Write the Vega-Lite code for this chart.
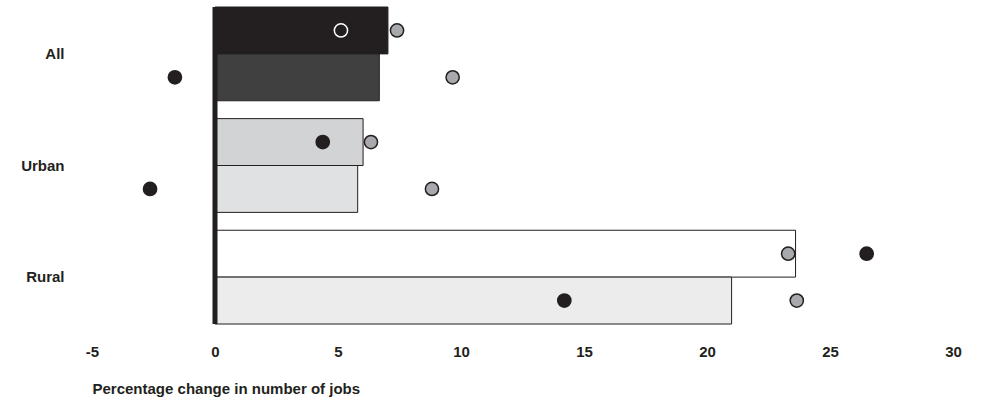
{
  "$schema": "https://vega.github.io/schema/vega-lite/v6.json",
  "autosize": "none",
  "width": 861,
  "height": 317,
  "padding": {"left": 92, "top": 7, "right": 29, "bottom": 80},
  "background": "white",
  "config": {
    "view": {"stroke": null},
    "font": "Liberation Sans",
    "axis": {"labelFont": "Liberation Sans", "titleFont": "Liberation Sans"}
  },
  "datasets": {
    "bars": [
      {"group": "All", "period": "1", "value": 7.03},
      {"group": "All", "period": "2", "value": 6.68},
      {"group": "Urban", "period": "1", "value": 6.02},
      {"group": "Urban", "period": "2", "value": 5.8},
      {"group": "Rural", "period": "1", "value": 23.6},
      {"group": "Rural", "period": "2", "value": 21.0}
    ],
    "points": [
      {"group": "All", "period": "1", "measure": "M2", "value": 5.12},
      {"group": "All", "period": "1", "measure": "M1", "value": 7.4},
      {"group": "All", "period": "2", "measure": "M2", "value": -1.63},
      {"group": "All", "period": "2", "measure": "M1", "value": 9.66},
      {"group": "Urban", "period": "1", "measure": "M2", "value": 4.38},
      {"group": "Urban", "period": "1", "measure": "M1", "value": 6.34},
      {"group": "Urban", "period": "2", "measure": "M2", "value": -2.64},
      {"group": "Urban", "period": "2", "measure": "M1", "value": 8.82},
      {"group": "Rural", "period": "1", "measure": "M1", "value": 23.3},
      {"group": "Rural", "period": "1", "measure": "M2", "value": 26.49},
      {"group": "Rural", "period": "2", "measure": "M2", "value": 14.2},
      {"group": "Rural", "period": "2", "measure": "M1", "value": 23.65}
    ],
    "zero": [{"value": 0}]
  },
  "layer": [
    {
      "data": {"name": "bars"},
      "mark": {"type": "bar", "stroke": "#231f20", "strokeWidth": 1},
      "encoding": {
        "y": {
          "field": "group",
          "type": "nominal",
          "sort": ["All", "Urban", "Rural"],
          "scale": {"paddingInner": 0.16, "paddingOuter": 0},
          "axis": {
            "title": null,
            "domain": false,
            "ticks": false,
            "labelFontWeight": "bold",
            "labelFontSize": 15,
            "labelColor": "#231f20",
            "labelPadding": 28
          }
        },
        "yOffset": {
          "field": "period",
          "type": "nominal",
          "sort": ["1", "2"],
          "scale": {"paddingInner": 0, "paddingOuter": 0}
        },
        "x": {
          "field": "value",
          "type": "quantitative",
          "scale": {"domain": [-5, 30], "nice": false, "zero": false},
          "axis": {
            "values": [-5, 0, 5, 10, 15, 20, 25, 30],
            "labelExpr": "'' + datum.value",
            "grid": false,
            "domain": false,
            "ticks": false,
            "labelFontWeight": "bold",
            "labelFontSize": 15,
            "labelColor": "#231f20",
            "labelPadding": 20,
            "labelFlush": false,
            "title": "Percentage change in number of jobs",
            "titleFontSize": 15,
            "titleFontWeight": "bold",
            "titleColor": "#231f20",
            "titleAnchor": "start",
            "titleAlign": "left",
            "titlePadding": 22
          }
        },
        "x2": {"datum": 0},
        "fill": {
          "condition": [
            {"test": "datum.group === 'All' && datum.period === '1'", "value": "#231f20"},
            {"test": "datum.group === 'All' && datum.period === '2'", "value": "#404040"},
            {"test": "datum.group === 'Urban' && datum.period === '1'", "value": "#d1d3d4"},
            {"test": "datum.group === 'Urban' && datum.period === '2'", "value": "#e0e1e2"},
            {"test": "datum.group === 'Rural' && datum.period === '2'", "value": "#ececec"}
          ],
          "value": "#ffffff"
        }
      }
    },
    {
      "data": {"name": "zero"},
      "mark": {"type": "rule", "color": "#231f20", "strokeWidth": 5},
      "encoding": {"x": {"field": "value", "type": "quantitative"}}
    },
    {
      "data": {"name": "points"},
      "mark": {"type": "point", "shape": "circle", "filled": true, "size": 175, "strokeWidth": 1.5, "opacity": 1},
      "encoding": {
        "y": {"field": "group", "type": "nominal", "sort": ["All", "Urban", "Rural"]},
        "yOffset": {"field": "period", "type": "nominal", "sort": ["1", "2"]},
        "x": {"field": "value", "type": "quantitative"},
        "fill": {
          "field": "measure",
          "type": "nominal",
          "scale": {"domain": ["M1", "M2"], "range": ["#a7a9ac", "#231f20"]},
          "legend": null
        },
        "stroke": {
          "condition": {"test": "datum.group === 'All' && datum.period === '1' && datum.measure === 'M2'", "value": "#ffffff"},
          "value": "#231f20"
        }
      }
    }
  ]
}
